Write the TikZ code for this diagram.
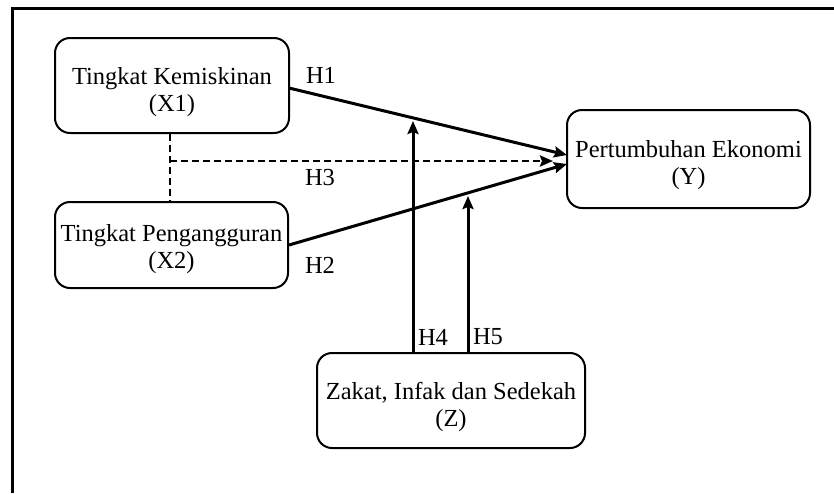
\documentclass[tikz,border=0pt]{standalone}
\usepackage{fontspec}
\setmainfont{Liberation Serif}
\usetikzlibrary{arrows.meta,calc}
\begin{document}
\begin{tikzpicture}[x=1pt,y=-1pt,
  box/.style={draw,line width=2pt,rounded corners=15pt,inner sep=0pt},
  txt/.style={align=center,inner sep=0pt,font=\fontsize{24.5}{27}\selectfont},
  lbl/.style={font=\fontsize{24.5}{24}\selectfont,inner sep=0pt},
  arr/.style={line width=3pt,-{Stealth[length=13pt,width=11pt,inset=2pt]}},
  dsh/.style={line width=2.8pt,dash pattern=on 7pt off 4pt}]
\useasboundingbox (0,0) rectangle (834,493);
\draw[line width=3pt] (12.5,493) -- (12.5,8.5) -- (834,8.5);
\node[box,minimum width=234pt,minimum height=95pt] (x1) at (172,85.5) {};
\node[txt] (x1t) at (172,92) {Tingkat Kemiskinan\\(X1)};
\node[box,minimum width=233pt,minimum height=86pt] (x2) at (171.5,245) {};
\node[txt] (x2t) at (171.5,249) {Tingkat Pengangguran\\(X2)};
\node[box,minimum width=243pt,minimum height=98pt] (y) at (688.5,159) {};
\node[txt] (yt) at (688.5,165) {Pertumbuhan Ekonomi\\(Y)};
\node[box,minimum width=268pt,minimum height=95pt] (z) at (451,400.5) {};
\node[txt] (zt) at (451,407) {Zakat, Infak dan Sedekah\\(Z)};
\coordinate (h1s) at (289,88);
\coordinate (h1e) at (567,155);
\coordinate (h2s) at (289,245);
\coordinate (h2e) at (567,164);
\coordinate (h3s) at (170,161);
\coordinate (h3e) at (553,161);
\coordinate (h4s) at (413,353);
\coordinate (h4e) at (413,121);
\coordinate (h5s) at (468,353);
\coordinate (h5e) at (468,196);
\draw[dsh] (x1.south -| h3s) -- (x2.north -| h3s);
\draw[dsh,-{Stealth[length=13pt,width=11pt,inset=2pt]}] (h3s) -- (h3e);
\draw[arr] (h1s) -- (h1e);
\draw[arr] (h2s) -- (h2e);
\draw[arr] (h4s) -- (h4e);
\draw[arr] (h5s) -- (h5e);
\node[lbl] (l1) at (321,75) {H1};
\node[lbl] (l2) at (320,265) {H2};
\node[lbl] (l3) at (320,178) {H3};
\node[lbl] (l4) at (433,337) {H4};
\node[lbl] (l5) at (488,337) {H5};
\end{tikzpicture}
\end{document}
